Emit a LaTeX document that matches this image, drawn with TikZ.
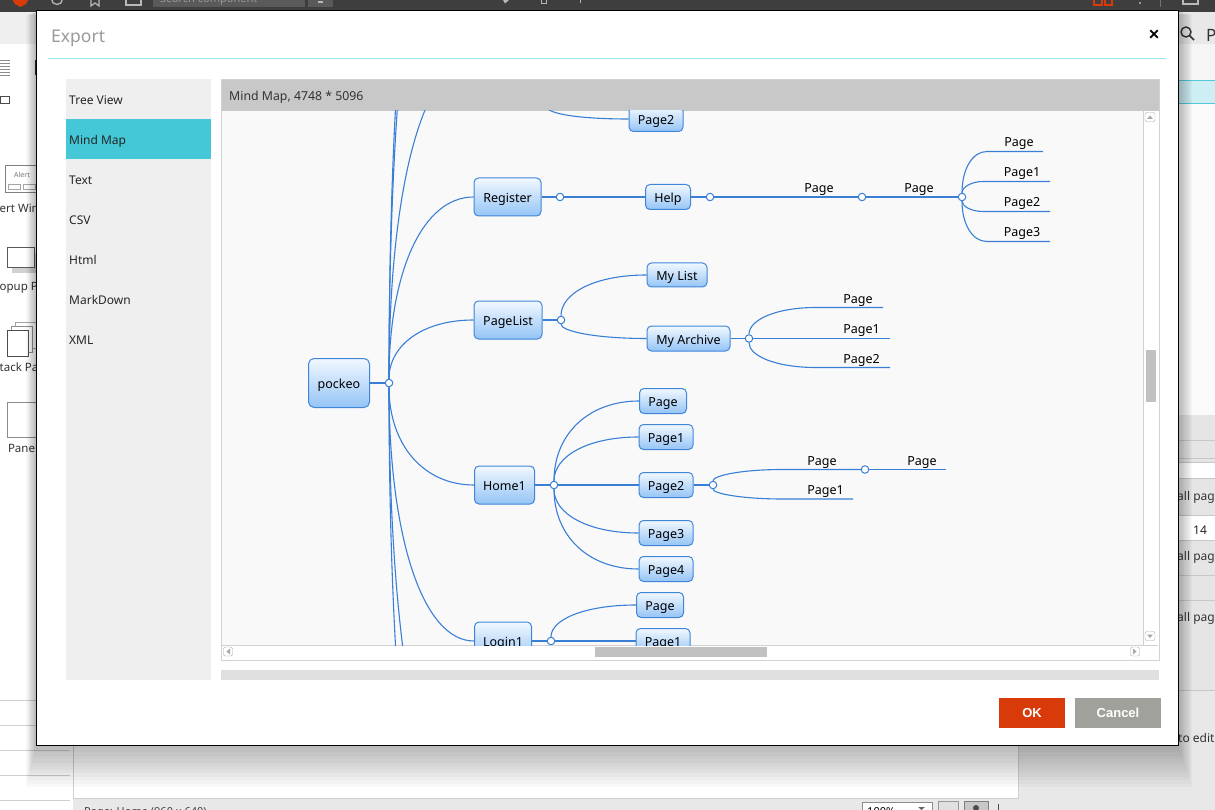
\documentclass[tikz,border=0pt]{standalone}
\usepackage{fontspec}
\setmainfont{Noto Sans}
\newfontfamily\boldui{Liberation Sans}
\usetikzlibrary{calc}
\definecolor{mmline}{HTML}{3A7FD6}
\definecolor{mmborder}{HTML}{3F86DA}
\definecolor{mmtop}{HTML}{F2F8FF}
\definecolor{mmbot}{HTML}{94C4F6}
\definecolor{topbar}{HTML}{3E3E3E}
\definecolor{barbox}{HTML}{5A5A5A}
\definecolor{barico}{HTML}{B8B8B8}
\definecolor{cyanline}{HTML}{9FE3EB}
\definecolor{selbg}{HTML}{44C8D7}
\definecolor{panelbg}{HTML}{EFEFEF}
\definecolor{hdrbg}{HTML}{C8C8C8}
\definecolor{canvasbg}{HTML}{F9F9F9}
\definecolor{okred}{HTML}{D83A0A}
\definecolor{cancelgray}{HTML}{A1A19B}
\definecolor{titlegray}{HTML}{9A9A9A}
\definecolor{appbg}{HTML}{E8E8E8}
\definecolor{linegray}{HTML}{CFCFCF}
\definecolor{framegray}{HTML}{D2D2D2}
\definecolor{thumbgray}{HTML}{C1C1C1}
\definecolor{arrowgray}{HTML}{A8A8A8}
\definecolor{bandcyan}{HTML}{CDEEF3}
\definecolor{bandline}{HTML}{55C8D8}
\newcommand\uisize[1]{\fontsize{#1}{#1}\selectfont}
\tikzset{
  mmnode/.style={draw=mmborder, line width=1pt, rounded corners=4.5pt, top color=mmtop, bottom color=mmbot, inner sep=0pt, font=\uisize{12.5}, text=black, text height=11pt, text depth=0pt},
  mmlink/.style={draw=mmline, line width=1.1pt},
  jn/.style={circle, draw=mmline, fill=white, line width=1pt, minimum size=7.5pt, inner sep=0pt},
  leaf/.style={anchor=base, font=\uisize{12.5}, inner sep=0pt, text=black},
  menuitem/.style={anchor=base west, font=\uisize{12}, text=black!85, inner sep=0pt},
  sidetext/.style={anchor=west, font=\uisize{11.5}, text=black!80, inner sep=0pt},
  btn/.style={font=\boldui\uisize{13}\bfseries, text=white, inner sep=0pt},
}
\newcommand\mmcurve[3][]{\path (#2|-#3) coordinate (mmcorner);
  \draw[mmlink] (#2) .. controls ($(#2)!0.6!(mmcorner)$) and ($(#3)!0.6!(mmcorner)$) .. (#3) #1;}
\begin{document}
\begin{tikzpicture}[x=1pt,y=-1pt]
\useasboundingbox (0,0) rectangle (1215,810);
% ---------- application behind the dialog ----------
\fill[appbg] (0,0) rectangle (1215,810);
\fill[white] (0,44) rectangle (73,810);
\fill[panelbg] (0,12) rectangle (73,44);
\foreach \yy in {60,63,66,69,72,75} \draw[black!45, line width=0.7pt] (0,\yy) -- (10,\yy);
\fill[black!80] (34.5,60) rectangle (36,75);
\draw[black!70, line width=0.8pt] (0,96) rectangle (9,103);
% alert window icon
\draw[black!50, line width=1pt] (5,166) rectangle (42,193);
\node[font=\uisize{7}\bfseries, text=black!55, inner sep=0] (alertlbl) at (22,175) {Alert};
\draw[black!35, line width=0.6pt] (8,184) rectangle (20,189);
\draw[black!35, line width=0.6pt] (23,184) rectangle (35,189);
\node[sidetext] (s1) at (-0.5,208) {ert Win};
% popup icon
\fill[black!18] (12,253) rectangle (40,273);
\draw[black!65, line width=1pt, fill=white] (7,248) rectangle (34,268);
\node[sidetext] (s2) at (-0.5,288) {opup Pa};
% stack icon
\draw[black!35, fill=white] (15,322) rectangle (36,348);
\draw[black!45, fill=white] (11,326) rectangle (32,352);
\draw[black!70, line width=1pt, fill=white] (7,330) rectangle (28,356);
\node[sidetext] (s3) at (-0.5,367) {tack Pa};
% panel icon
\draw[black!45, line width=0.8pt, fill=white] (7,402) rectangle (42,437);
\node[font=\uisize{11.5}, text=black!80, inner sep=0] (s4) at (23,448) {Panel};
\foreach \yy in {700,725} \draw[linegray] (0,\yy) -- (36,\yy);
\foreach \yy in {750,775,800} \draw[linegray] (0,\yy) -- (70,\yy);
% bottom work area
\fill[white] (73,745) rectangle (1018,798);
\draw[linegray] (73,745) -- (73,798) -- (1018,798) -- (1018,745);
\fill[black!9] (73,798.5) rectangle (1018,810);
\node[anchor=base west, font=\uisize{11}, text=black!75, inner sep=0] (status) at (84,815) {Page: Home (960 x 640)};
\draw[black!45, fill=white] (862,802) rectangle (932,812);
\node[anchor=base west, font=\uisize{11}, inner sep=0] (zoomv) at (867,815) {100\%};
\fill[black!60] (918,807) -- (925,807) -- (921.5,810) -- cycle;
\draw[black!40, fill=black!12] (938,801) rectangle (958,812);
\draw[black!50, fill=black!22] (964,801) rectangle (988,812);
\fill[black!70] (976,808) circle (3);
\draw[black!70, line width=1pt] (998,804) -- (998,810);
% right strip
\fill[appbg] (1178,12) rectangle (1215,44);
\draw[black!80, line width=1.4pt] (1186,32) circle (5);
\draw[black!80, line width=1.6pt] (1189.5,35.5) -- (1194,40);
\node[anchor=west, font=\uisize{17}, text=black!80, inner sep=0] (pchar) at (1206,35) {P};
\fill[black!4] (1178,44) rectangle (1215,80);
\fill[bandcyan] (1178,80) rectangle (1215,104);
\draw[bandline] (1178,80.5) -- (1215,80.5);
\draw[bandline] (1178,103.5) -- (1215,103.5);
\fill[black!2] (1178,104) rectangle (1215,415);
\fill[black!10] (1178,415) rectangle (1215,690);
\foreach \yy in {440,458,462,478,515,540,575,600,690} \draw[black!22] (1178,\yy) -- (1215,\yy);
\fill[white] (1178,462.5) rectangle (1215,477.5);
\fill[white] (1178,515.5) rectangle (1215,539.5);
\node[sidetext, font=\uisize{12}] (r1) at (1177,497) {all pag};
\node[font=\uisize{12}, text=black!85, inner sep=0] (r2) at (1200,530) {14};
\node[sidetext, font=\uisize{12}] (r3) at (1177,557) {all pag};
\node[sidetext, font=\uisize{12}] (r4) at (1177,618) {all pag};
\node[sidetext, font=\uisize{12}] (r5) at (1178,738) {to edit};
% top bar
\fill[topbar] (0,0) rectangle (1215,12);
\fill[okred] (12,-1) -- (29,-1) -- (26,4) -- (20.5,7) -- (15,4) -- cycle;
\draw[barico, line width=1.3pt] (57,-1) circle (5.5);
\draw[barico, line width=1.2pt] (91,-1) -- (91,6) -- (95,3) -- (99,6) -- (99,-1);
\draw[barico, line width=1.2pt] (126,-1) rectangle (141,5);
\fill[barbox] (153,-1) rectangle (305,7);
\node[anchor=base west, text=black!40, font=\uisize{11}, inner sep=0] (search) at (160,2.5) {Search component};
\fill[barbox] (308,-1) rectangle (333,7);
\fill[barico] (318,1.5) rectangle (323,3.5);
\fill[barico] (503,0) -- (509,0) -- (505,3.5) -- cycle;
\draw[barico, line width=1pt] (541,-1) rectangle (546,4);
\draw[barico, line width=1pt] (580,-1) -- (580,3);
\draw[okred, line width=1.3pt] (1094,-1) rectangle (1102,5);
\draw[okred, line width=1.3pt] (1105,-1) rectangle (1112,5);
\fill[barico] (1140,3) circle (1.2);
\draw[black!55] (1160,-1) -- (1160,7);
\draw[barico, line width=1.2pt] (1183,-1) rectangle (1198,4);
% ---------- dialog shadow ----------
\foreach \i in {1,...,12} \fill[black, opacity=0.022] (36-0.8*\i,11+0.3*\i) rectangle (1178+1.2*\i,745+3.5*\i);
% ---------- dialog ----------
\fill[white] (36,11) rectangle (1178,745);
\draw[black, line width=1pt] (36,11) rectangle (1178,745);
\node[anchor=base west, text=titlegray, font=\uisize{17.5}, inner sep=0] (title) at (51,43) {Export};
\node[font=\boldui\uisize{18}\bfseries, inner sep=0] (close) at (1154,35) {×};
\draw[cyanline, line width=1pt] (48,58.5) -- (1166,58.5);
% left menu
\fill[panelbg] (66,79) rectangle (211,680);
\fill[selbg] (66,119) rectangle (211,159);
\node[menuitem] (m1) at (69,104.3) {Tree View};
\node[menuitem] (m2) at (69,144.3) {Mind Map};
\node[menuitem] (m3) at (69,184.3) {Text};
\node[menuitem] (m4) at (69,224.3) {CSV};
\node[menuitem] (m5) at (69,264.3) {Html};
\node[menuitem] (m6) at (69,304.3) {MarkDown};
\node[menuitem] (m7) at (69,344.3) {XML};
% preview frame
\fill[hdrbg] (221,79) rectangle (1159,111);
\node[anchor=base west, font=\uisize{12.3}, text=black!80, inner sep=0] (hdr) at (229,100.7) {Mind Map, 4748 * 5096};
\fill[canvasbg] (222,111) rectangle (1143,645);
\fill[white] (1143,111) rectangle (1158,659);
\fill[white] (222,645) rectangle (1143,659);
\draw[framegray] (1143,111) -- (1143,645) -- (222,645);
\draw[framegray] (1143,645) -- (1158,645);
\fill[thumbgray] (1146,350) rectangle (1156,402);
\fill[thumbgray] (595,647) rectangle (767,657);
\draw[arrowgray, rounded corners=2pt] (1145,112.5) rectangle (1155,121.5);
\fill[arrowgray] (1147,119) -- (1153,119) -- (1150,115.5) -- cycle;
\draw[arrowgray, rounded corners=2pt] (1145,631.5) rectangle (1155,640.5);
\fill[arrowgray] (1147,634.5) -- (1153,634.5) -- (1150,638) -- cycle;
\draw[arrowgray, rounded corners=2pt] (223.5,647) rectangle (232.5,656);
\fill[arrowgray] (230,648.5) -- (230,654.5) -- (226.5,651.5) -- cycle;
\draw[arrowgray, rounded corners=2pt] (1130.5,647) rectangle (1139.5,656);
\fill[arrowgray] (1133,648.5) -- (1133,654.5) -- (1136.5,651.5) -- cycle;
\draw[framegray] (221,79) rectangle (1159,660);
\fill[black!12] (221,670) rectangle (1159,680);
% buttons
\fill[okred] (999,698) rectangle (1065,728);
\node[btn] (ok) at (1032,713) {OK};
\fill[cancelgray] (1075,698) rectangle (1161,728);
\node[btn] (cancel) at (1118,713) {Cancel};
% ---------- mind map ----------
\begin{scope}
\clip (222,111) rectangle (1143,645);
% boxes
\node[mmnode, minimum width=61pt, minimum height=49pt, rounded corners=5.5pt] (pockeo) at (339,383) {pockeo};
\node[mmnode, minimum width=67pt, minimum height=38pt] (register) at (507.5,197) {Register};
\node[mmnode, minimum width=68pt, minimum height=38pt] (pagelist) at (508,320) {PageList};
\node[mmnode, minimum width=60pt, minimum height=38pt] (home) at (504.5,485) {Home1};
\node[mmnode, minimum width=57pt, minimum height=38pt] (login) at (503,641) {Login1};
\node[mmnode, minimum width=54pt, minimum height=25pt] (ptop) at (656,119) {Page2};
\node[mmnode, minimum width=45pt, minimum height=25pt] (help) at (668,197) {Help};
\node[mmnode, minimum width=60pt, minimum height=24pt] (mylist) at (677,275) {My List};
\node[mmnode, minimum width=83pt, minimum height=25pt] (myarch) at (688.5,338.5) {My Archive};
\node[mmnode, minimum width=47pt, minimum height=25pt] (hp0) at (663,401) {Page};
\node[mmnode, minimum width=54pt, minimum height=25pt] (hp1) at (666,437) {Page1};
\node[mmnode, minimum width=54pt, minimum height=25pt] (hp2) at (666,485) {Page2};
\node[mmnode, minimum width=54pt, minimum height=25pt] (hp3) at (666,533) {Page3};
\node[mmnode, minimum width=54pt, minimum height=25pt] (hp4) at (666,569) {Page4};
\node[mmnode, minimum width=47pt, minimum height=25pt] (lp0) at (660,605) {Page};
\node[mmnode, minimum width=54pt, minimum height=25pt] (lp1) at (663,641) {Page1};
% junctions
\node[jn] (j0) at (389,383) {};
\node[jn] (j1) at (560,197) {};
\node[jn] (j2) at (710,197) {};
\node[jn] (j3) at (862,197) {};
\node[jn] (j4) at (962,197) {};
\node[jn] (j5) at (561,320) {};
\node[jn] (j6) at (749,338.5) {};
\node[jn] (j7) at (554,485) {};
\node[jn] (j8) at (713,485) {};
\node[jn] (j9) at (865,469.5) {};
\node[jn] (j10) at (551,641) {};
\coordinate (jtop) at (546,106);
% leaf labels (baseline just above their lines)
\node[leaf] (t1) at (819,192.2) {Page};
\node[leaf] (t2) at (919,192.2) {Page};
\node[leaf] (t3) at (1019,147) {Page};
\node[leaf] (t4) at (1022,177) {Page1};
\node[leaf] (t5) at (1022,207) {Page2};
\node[leaf] (t6) at (1022,237) {Page3};
\node[leaf] (t7) at (858,303) {Page};
\node[leaf] (t8) at (861.5,333.5) {Page1};
\node[leaf] (t9) at (861.5,363) {Page2};
\node[leaf] (t10) at (822,465) {Page};
\node[leaf] (t11) at (922,465) {Page};
\node[leaf] (t12) at (825.5,494.5) {Page1};
% free ends
\coordinate (u1) at (474,60);
\coordinate (u2) at (474,-196);
\coordinate (u3) at (474,-265);
\coordinate (d1) at (474,832);
\coordinate (d2) at (474,1002);
\coordinate (b1) at (987,151.5);  \coordinate (e1) at (1043,151.5);
\coordinate (b2) at (983,181.5);  \coordinate (e2) at (1050,181.5);
\coordinate (b3) at (983,211.5);  \coordinate (e3) at (1050,211.5);
\coordinate (b4) at (987,241.5);  \coordinate (e4) at (1050,241.5);
\coordinate (b5) at (816,307.5);  \coordinate (e5) at (883,307.5);
\coordinate (e6) at (890,338.5);
\coordinate (b7) at (816,367.5);  \coordinate (e7) at (890,367.5);
\coordinate (b8) at (783,469.5);  \coordinate (e8) at (946,469.5);
\coordinate (b9) at (783,499);    \coordinate (e9) at (853,499);
% connectors
\draw[mmlink] (pockeo.east) -- (j0);
\mmcurve{j0}{register.west}
\mmcurve{j0}{pagelist.west}
\mmcurve{j0}{home.west}
\mmcurve{j0}{login.west}
\mmcurve{j0}{u1}
\mmcurve{j0}{u2}
\mmcurve{j0}{u3}
\mmcurve{j0}{d1}
\mmcurve{j0}{d2}
\mmcurve{jtop}{ptop.west}
\draw[mmlink] (register.east) -- (j1);
\draw[mmlink] (j1) -- (help.west);
\draw[mmlink] (help.east) -- (j2);
\draw[mmlink] (j2) -- (j3);
\draw[mmlink] (j3) -- (j4);
\mmcurve[-- (e1)]{j4}{b1}
\mmcurve[-- (e2)]{j4}{b2}
\mmcurve[-- (e3)]{j4}{b3}
\mmcurve[-- (e4)]{j4}{b4}
\draw[mmlink] (pagelist.east) -- (j5);
\mmcurve{j5}{mylist.west}
\mmcurve{j5}{myarch.west}
\draw[mmlink] (myarch.east) -- (j6);
\mmcurve[-- (e5)]{j6}{b5}
\draw[mmlink] (j6) -- (e6);
\mmcurve[-- (e7)]{j6}{b7}
\draw[mmlink] (home.east) -- (j7);
\mmcurve{j7}{hp0.west}
\mmcurve{j7}{hp1.west}
\draw[mmlink] (j7) -- (hp2.west);
\mmcurve{j7}{hp3.west}
\mmcurve{j7}{hp4.west}
\draw[mmlink] (hp2.east) -- (j8);
\mmcurve[-- (j9)]{j8}{b8}
\draw[mmlink] (j9) -- (e8);
\mmcurve[-- (e9)]{j8}{b9}
\draw[mmlink] (login.east) -- (j10);
\mmcurve{j10}{lp0.west}
\draw[mmlink] (j10) -- (lp1.west);
\end{scope}
\end{tikzpicture}
\end{document}
